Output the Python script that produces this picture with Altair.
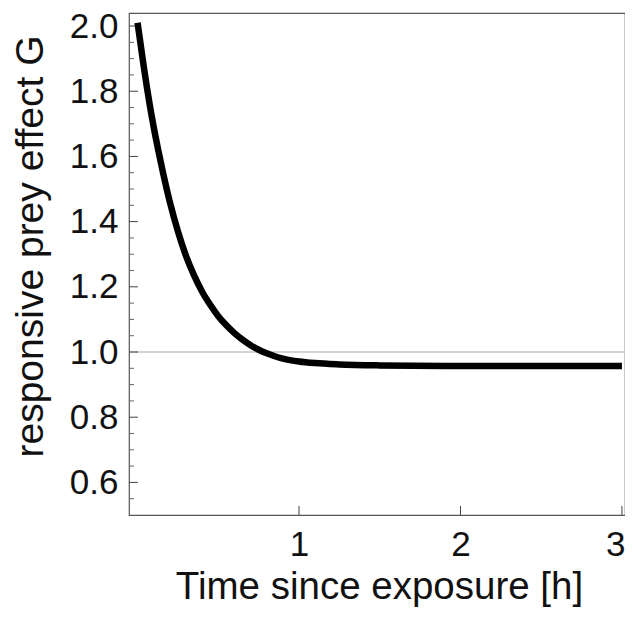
import altair as alt
import pandas as pd

# Curve
time_h = [0.00, 0.02, 0.04, 0.06, 0.08, 0.10, 0.13, 0.16, 0.20, 0.25, 0.30, 0.35,
          0.40, 0.45, 0.50, 0.55, 0.60, 0.65, 0.70, 0.75, 0.80, 0.85, 0.90, 1.00,
          1.10, 1.25, 1.50, 2.00, 2.50, 3.00]
G_vals = [2.01, 1.94, 1.87, 1.805, 1.745, 1.69, 1.615, 1.545, 1.46, 1.37, 1.295, 1.235,
          1.185, 1.145, 1.11, 1.082, 1.058, 1.038, 1.021, 1.007, 0.996, 0.987, 0.980, 0.971,
          0.966, 0.962, 0.959, 0.957, 0.957, 0.957]

# Ticks
x_major = [1, 2, 3]
y_major = [0.6, 0.8, 1.0, 1.2, 1.4, 1.6, 1.8, 2.0]
y_minor = [0.55, 0.65, 0.7, 0.75, 0.85, 0.9, 0.95, 1.05, 1.1, 1.15, 1.25, 1.3, 1.35,
           1.45, 1.5, 1.55, 1.65, 1.7, 1.75, 1.85, 1.9, 1.95]
ref_level = [1.0]

W, H = 496, 502
FONT = "Liberation Sans"

xs = alt.Scale(domain=[-0.053, 3.019], nice=False, zero=False)
ys = alt.Scale(domain=[0.5, 2.04], nice=False, zero=False)

curve = pd.DataFrame({"t": time_h, "G": G_vals})

x_axis = alt.Axis(values=x_major, format="d", ticks=False, domain=False, grid=False,
                  labelFont=FONT, labelFontSize=35, labelColor="#111", labelPadding=12,
                  labelFlush=4, labelFlushOffset=3,
                  title="Time since exposure [h]", titleFont=FONT, titleFontSize=38.5,
                  titleFontWeight="normal", titleColor="#111",
                  titleX=250, titleY=83, titleBaseline="alphabetic", titleAlign="center")
y_axis = alt.Axis(values=y_major, format=".1f", ticks=False, domain=False, grid=False,
                  labelFont=FONT, labelFontSize=35, labelColor="#111", labelPadding=11,
                  title="responsive prey effect G", titleFont=FONT, titleFontSize=39,
                  titleFontWeight="normal", titleColor="#111", titleAngle=-90,
                  titleX=-99, titleY=233, titleBaseline="middle", titleAlign="center")

line = alt.Chart(curve).mark_line(color="black", strokeWidth=6.5, interpolate="monotone").encode(
    x=alt.X("t:Q", scale=xs, axis=x_axis),
    y=alt.Y("G:Q", scale=ys, axis=y_axis),
)

ref = alt.Chart(pd.DataFrame({"G": ref_level})).mark_rule(color="#b3a3a3", strokeWidth=1.2).encode(
    y=alt.Y("G:Q", scale=ys),
)

ymaj = alt.Chart(pd.DataFrame({"G": y_major})).mark_rule(color="#444", strokeWidth=1).encode(
    y=alt.Y("G:Q", scale=ys), x=alt.value(0), x2=alt.value(9)
)
ymin = alt.Chart(pd.DataFrame({"G": y_minor})).mark_rule(color="#666", strokeWidth=1).encode(
    y=alt.Y("G:Q", scale=ys), x=alt.value(0), x2=alt.value(5)
)
xmaj = alt.Chart(pd.DataFrame({"t": x_major})).mark_rule(color="#444", strokeWidth=1).encode(
    x=alt.X("t:Q", scale=xs), y=alt.value(H), y2=alt.value(H - 9)
)

chart = alt.layer(ref, ymin, ymaj, xmaj, line).properties(
    width=W, height=H,
    autosize=alt.AutoSizeParams(type="none"),
    padding={"left": 121, "top": 5, "right": 0, "bottom": 98},
    background="white",
).configure_view(stroke="#555", strokeWidth=1.2)

chart.save("out.html", embed_options={"renderer": "svg", "actions": False})
